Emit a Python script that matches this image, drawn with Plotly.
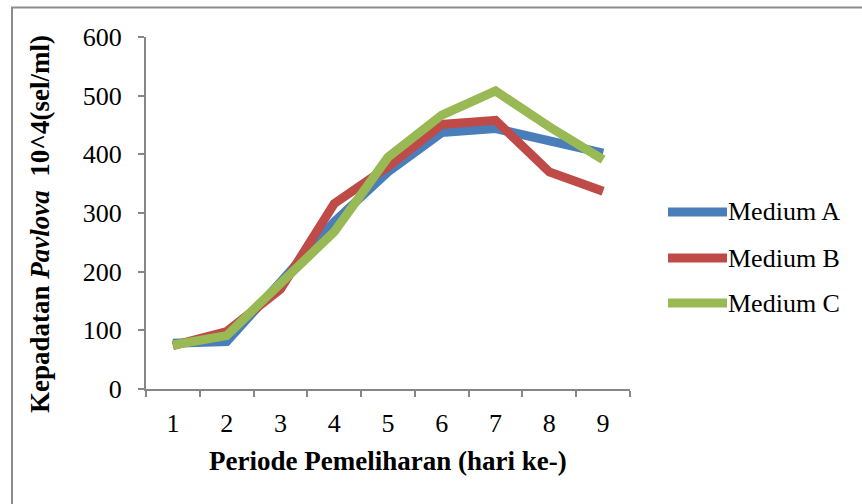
import plotly.graph_objects as go

days = ["1", "2", "3", "4", "5", "6", "7", "8", "9"]
medium_a = [78, 81, 182, 285, 370, 437, 444, 424, 402]
medium_b = [74, 98, 170, 316, 379, 451, 458, 370, 337]
medium_c = [75, 91, 180, 268, 395, 467, 508, 447, 391]
series_names = ["Medium A", "Medium B", "Medium C"]
colors = ["#4a7ebb", "#be4b48", "#98b954"]
y_ticks = [0, 100, 200, 300, 400, 500, 600]

FONT = "Times New Roman, Liberation Serif, serif"
FS = 26

fig = go.Figure()
for name, vals, col in zip(series_names, [medium_a, medium_b, medium_c], colors):
    fig.add_trace(go.Scatter(x=days, y=vals, mode="lines", name=name,
                             line=dict(color=col, width=9), showlegend=False))

W, H = 862, 504
L, R, T, B = 146, 232, 37, 115
pw, ph = W - L - R, H - T - B

def px_x(x):
    return (x - L) / pw

def px_y(y):
    return 1 - (y - T) / ph

shapes = [
    dict(type="line", xref="paper", yref="paper", x0=px_x(12), x1=px_x(12),
         y0=px_y(7.5), y1=px_y(520), line=dict(color="#8c8c8c", width=2)),
    dict(type="line", xref="paper", yref="paper", x0=px_x(11), x1=px_x(880),
         y0=px_y(7.5), y1=px_y(7.5), line=dict(color="#8c8c8c", width=2)),
]
annotations = []
leg_y = [212, 258, 303]
for name, col, yy in zip(series_names, colors, leg_y):
    shapes.append(dict(type="line", xref="paper", yref="paper",
                       x0=px_x(668), x1=px_x(727), y0=px_y(yy), y1=px_y(yy),
                       line=dict(color=col, width=9)))
    annotations.append(dict(text=name, xref="paper", yref="paper",
                            x=px_x(726), y=px_y(yy), xanchor="left", yanchor="middle",
                            showarrow=False, font=dict(family=FONT, size=FS, color="black")))

annotations.append(dict(text="<b>Periode Pemeliharan (hari ke-)</b>", xref="paper", yref="paper",
                        x=px_x(388), y=px_y(461), xanchor="center", yanchor="middle",
                        showarrow=False, font=dict(family=FONT, size=27, color="black")))
annotations.append(dict(text="<b>Kepadatan <i>Pavlova</i>  10^4(sel/ml)</b>", xref="paper", yref="paper",
                        x=px_x(40), y=px_y(224), xanchor="center", yanchor="middle",
                        textangle=-90, showarrow=False,
                        font=dict(family=FONT, size=27, color="black")))

fig.update_layout(
    width=W, height=H,
    margin=dict(l=L, r=R, t=T, b=B),
    paper_bgcolor="white", plot_bgcolor="white",
    font=dict(family=FONT, size=FS, color="black"),
    shapes=shapes, annotations=annotations,
    showlegend=False,
    xaxis=dict(type="category", showgrid=False, showline=True, linecolor="#868686",
               linewidth=2, ticks="outside", tickson="boundaries", ticklen=6,
               tickcolor="#868686", tickwidth=2, tickfont=dict(family=FONT, size=FS),
               range=[-0.5, 8.5], zeroline=False, ticklabelstandoff=10),
    yaxis=dict(range=[0, 600], tickvals=y_ticks, showgrid=False, showline=True,
               linecolor="#868686", linewidth=2, ticks="outside", ticklen=6,
               tickcolor="#868686", tickwidth=2, tickfont=dict(family=FONT, size=FS),
               zeroline=False, ticklabelstandoff=11),
)

fig.write_html("out.html")
